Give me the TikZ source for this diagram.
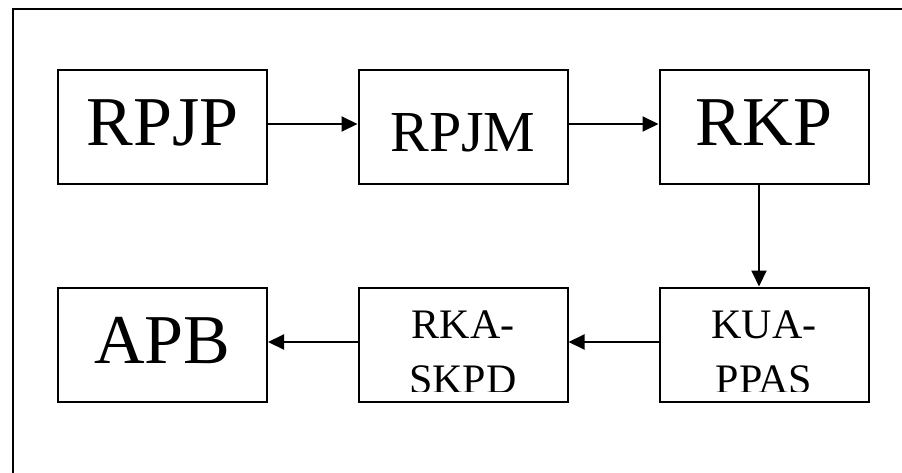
\documentclass[tikz,border=0pt]{standalone}
\usepackage{fontspec}
\setmainfont{Liberation Serif}
\usetikzlibrary{arrows.meta}
\begin{document}
\begin{tikzpicture}[x=1pt,y=-1pt,
  box/.style={draw,line width=2pt,minimum width=209pt,minimum height=114pt,inner sep=0pt},
  bigtext/.style={font=\fontsize{70}{84}\selectfont,anchor=base,inner sep=0pt},
  midtext/.style={font=\fontsize{58}{70}\selectfont,anchor=base,inner sep=0pt},
  smalltext/.style={font=\fontsize{42}{55}\selectfont,anchor=base,inner sep=0pt},
  conn/.style={line width=2pt,-{Triangle[length=16pt,width=15pt]}}]
\useasboundingbox (0,0) rectangle (902,473);
\clip (0,0) rectangle (902,473);
% outer frame
\draw[line width=2pt] (12.5,490) -- (12.5,9) -- (920,9);
% top row
\node[box] (rpjp) at (162.5,127.5) {};
\node[box] (rpjm) at (463,127.5) {};
\node[box] (rkp)  at (764,127.5) {};
\node[bigtext] (rpjpt) at (162.5,146) {RPJP};
\node[midtext] (rpjmt) at (463,152) {RPJM};
\node[bigtext] (rkpt)  at (764,146) {RKP};
% bottom row
\node[box] (apb) at (162.5,344.5) {};
\node[box] (rka) at (463,344.5) {};
\node[box] (kua) at (764,344.5) {};
\node[bigtext] (apbt) at (162.5,363) {APB};
\node[smalltext] (rkat1) at (463,338.5) {RKA-};
\node[smalltext] (kuat1) at (764,338.5) {KUA-};
\begin{scope}
  \clip (358,287) rectangle (870,391.5);
  \node[smalltext] (rkat2) at (463,393.5) {SKPD};
  \node[smalltext] (kuat2) at (764,393.5) {PPAS};
\end{scope}
% connectors
\draw[conn] ([yshift=3.5pt]rpjp.east) -- ([yshift=3.5pt]rpjm.west);
\draw[conn] ([yshift=3.5pt]rpjm.east) -- ([yshift=3.5pt]rkp.west);
\draw[conn] ([xshift=-5pt]rkp.south) -- ([xshift=-5pt]kua.north);
\draw[conn] ([yshift=2.5pt]kua.west) -- ([yshift=2.5pt]rka.east);
\draw[conn] ([yshift=2.5pt]rka.west) -- ([yshift=2.5pt]apb.east);
\end{tikzpicture}
\end{document}
